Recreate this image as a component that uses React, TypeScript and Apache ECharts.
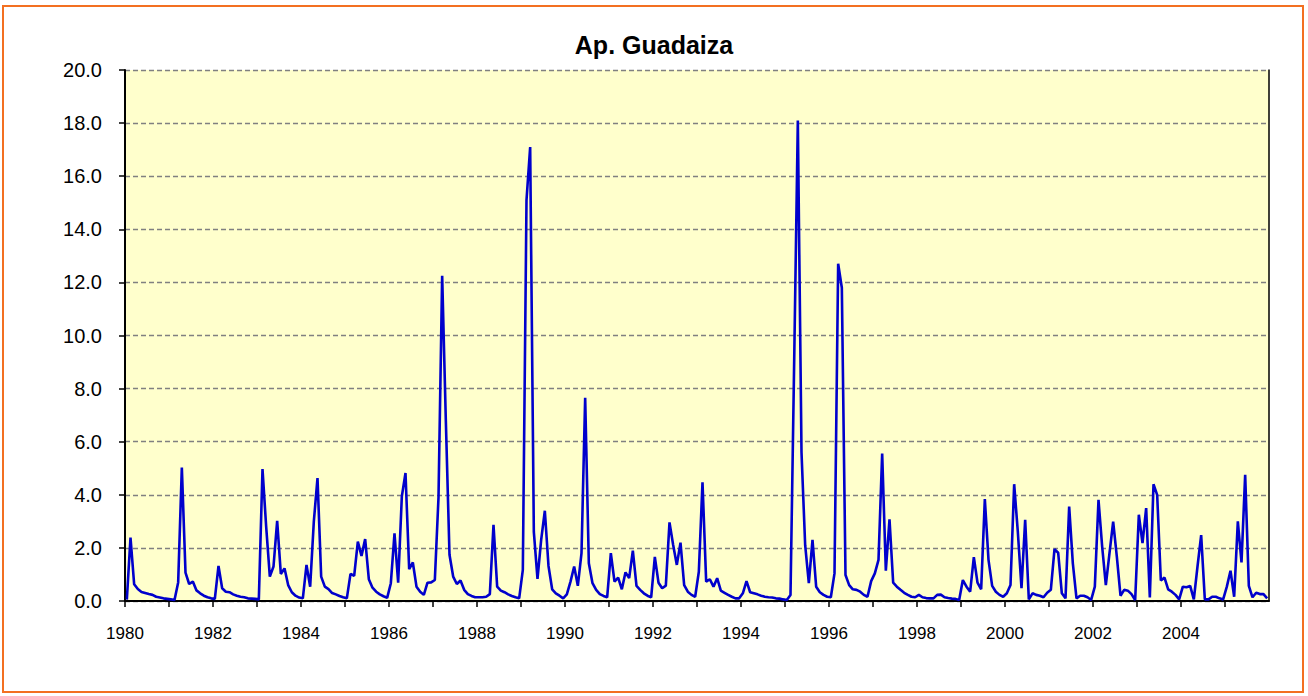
import React, { useEffect, useRef } from "react";
import * as echarts from "echarts";

const TITLE = "Ap. Guadaiza";
const START_YEAR = 1980;
const Y_TICKS_MAX = 20;

// Monthly values, Jan 1980 – Dec 1989
const flow1980s = [
  0.05, 2.39, 0.63, 0.45, 0.34, 0.30, 0.26, 0.23, 0.16, 0.13, 0.10, 0.08,
  0.06, 0.04, 0.70, 5.03, 1.07, 0.64, 0.73, 0.40, 0.29, 0.20, 0.14, 0.10,
  0.08, 1.32, 0.48, 0.35, 0.33, 0.25, 0.20, 0.16, 0.14, 0.10, 0.09, 0.08,
  0.06, 4.97, 2.80, 0.92, 1.30, 3.02, 1.02, 1.23, 0.60, 0.33, 0.20, 0.13,
  0.10, 1.36, 0.54, 3.00, 4.63, 0.92, 0.54, 0.45, 0.30, 0.25, 0.19, 0.14,
  0.10, 1.02, 0.95, 2.24, 1.70, 2.33, 0.82, 0.50, 0.35, 0.25, 0.18, 0.12,
  0.67, 2.55, 0.69, 3.94, 4.82, 1.20, 1.45, 0.54, 0.35, 0.23, 0.69, 0.70,
  0.79, 3.90, 12.25, 6.80, 1.74, 0.92, 0.64, 0.77, 0.42, 0.26, 0.19, 0.14,
  0.14, 0.14, 0.16, 0.26, 2.87, 0.54, 0.39, 0.33, 0.25, 0.19, 0.14, 0.10,
  1.17, 15.10, 17.10, 2.60, 0.83, 2.30, 3.40, 1.32, 0.44, 0.29, 0.20, 0.10,
];

// Jan 1990 – Dec 1999
const flow1990s = [
  0.25, 0.73, 1.30, 0.57, 1.80, 7.65, 1.42, 0.67, 0.42, 0.26, 0.19, 0.14,
  1.80, 0.73, 0.88, 0.44, 1.08, 0.86, 1.90, 0.57, 0.42, 0.29, 0.20, 0.14,
  1.66, 0.69, 0.48, 0.58, 2.96, 2.11, 1.36, 2.20, 0.60, 0.35, 0.23, 0.16,
  1.10, 4.47, 0.73, 0.82, 0.54, 0.86, 0.39, 0.31, 0.23, 0.16, 0.10, 0.10,
  0.29, 0.75, 0.33, 0.29, 0.25, 0.20, 0.16, 0.14, 0.13, 0.10, 0.09, 0.06,
  0.04, 0.23, 9.00, 18.10, 5.60, 2.10, 0.67, 2.30, 0.54, 0.33, 0.23, 0.16,
  0.14, 1.04, 12.70, 11.80, 0.98, 0.60, 0.44, 0.42, 0.35, 0.23, 0.16, 0.75,
  1.04, 1.55, 5.55, 1.14, 3.08, 0.69, 0.54, 0.42, 0.31, 0.23, 0.16, 0.14,
  0.23, 0.14, 0.11, 0.10, 0.10, 0.23, 0.24, 0.14, 0.11, 0.09, 0.08, 0.04,
  0.79, 0.54, 0.35, 1.65, 0.69, 0.44, 3.84, 1.55, 0.57, 0.35, 0.23, 0.16,
];

// Jan 2000 – Dec 2005
const flow2000s = [
  0.29, 0.60, 4.40, 2.60, 0.48, 3.06, 0.06, 0.29, 0.23, 0.20, 0.14, 0.31,
  0.42, 1.95, 1.82, 0.29, 0.10, 3.56, 1.42, 0.10, 0.20, 0.20, 0.14, 0.04,
  0.54, 3.81, 2.05, 0.60, 1.80, 2.99, 1.67, 0.20, 0.42, 0.39, 0.26, 0.04,
  3.25, 2.18, 3.50, 0.13, 4.40, 4.00, 0.77, 0.88, 0.44, 0.35, 0.23, 0.06,
  0.54, 0.52, 0.57, 0.06, 1.30, 2.48, 0.06, 0.06, 0.16, 0.16, 0.10, 0.06,
  0.54, 1.14, 0.16, 3.00, 1.45, 4.75, 0.57, 0.14, 0.31, 0.26, 0.26, 0.10,
];

const FONT = '"Liberation Sans", Arial, sans-serif';

export default function App() {
  const ref = useRef<HTMLDivElement>(null);

  useEffect(() => {
    document.body.style.margin = "0";
    if (!ref.current) return;
    const chart = echarts.init(ref.current, undefined, { renderer: "svg" });

    const values = [...flow1980s, ...flow1990s, ...flow2000s];
    const months = values.length; // 312
    // each month is a band on the axis; the point sits in the middle of its month
    const seriesData = values.map((v, i) => [i + 0.5, v]);

    chart.setOption({
      animation: false,
      backgroundColor: "#ffffff",
      title: {
        text: TITLE,
        left: "center",
        top: 27,
        textStyle: { fontFamily: FONT, fontSize: 25, fontWeight: "bold", color: "#000" },
      },
      grid: {
        left: 125,
        top: 70,
        right: 39,
        bottom: 95,
        show: true,
        backgroundColor: "#FFFFCC",
        borderWidth: 0,
      },
      xAxis: {
        type: "value",
        min: 0,
        max: months,
        interval: 12,
        axisLine: { show: true, lineStyle: { color: "#000", width: 2 } },
        axisTick: { show: true, inside: false, length: 6, lineStyle: { color: "#000", width: 1.5 } },
        splitLine: { show: false },
        axisLabel: {
          margin: 24,
          fontFamily: FONT,
          fontSize: 17,
          color: "#000",
          showMaxLabel: false,
          hideOverlap: false,
          formatter: (v: number) =>
            v % 24 === 0 && v < months ? String(START_YEAR + v / 12) : "",
        },
      },
      yAxis: [
        {
          type: "value",
          min: 0,
          max: Y_TICKS_MAX,
          interval: 2,
          axisLine: { show: true, lineStyle: { color: "#000", width: 2 } },
          axisTick: { show: true, inside: false, length: 6, lineStyle: { color: "#000", width: 1.5 } },
          splitLine: { show: true, lineStyle: { color: "#808080", width: 1.3, type: [5, 3] } },
          axisLabel: {
            margin: 23,
            fontFamily: FONT,
            fontSize: 20,
            color: "#000",
            formatter: (v: number) => v.toFixed(1),
          },
        },
        {
          type: "value",
          min: 0,
          max: Y_TICKS_MAX,
          interval: 2,
          position: "right",
          axisLine: { show: true, lineStyle: { color: "#000", width: 1.5 } },
          axisTick: { show: false },
          axisLabel: { show: false },
          splitLine: { show: false },
        },
      ],
      series: [
        {
          type: "line",
          data: seriesData,
          showSymbol: false,
          symbol: "none",
          lineStyle: { color: "#0000CC", width: 2.6 },
          z: 5,
        },
      ],
      graphic: [
        {
          type: "rect",
          shape: { x: 3, y: 6, width: 1300, height: 686 },
          style: { fill: "none", stroke: "#F37021", lineWidth: 2 },
          silent: true,
        },
      ],
    });

    return () => chart.dispose();
  }, []);

  return <div ref={ref} style={{ width: 1308, height: 696 }} />;
}
